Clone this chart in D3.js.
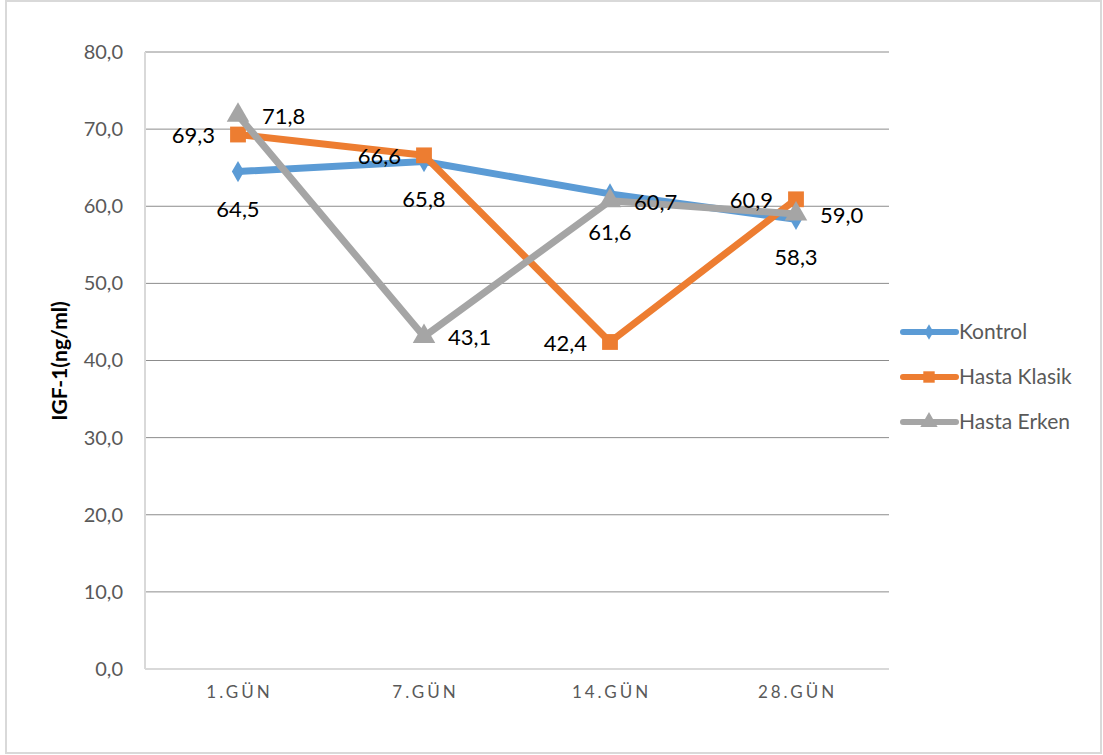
<!DOCTYPE html>
<html>
<head>
<meta charset="utf-8">
<script src="https://cdn.jsdelivr.net/npm/d3@7"></script>
<style>
	body { margin: 0; background: #fff; }
	svg { display: block; font-family: Lato, "Open Sans", sans-serif; }
</style>
</head>
<body>
<div id="chart"></div>
<script>
// donnees
const gunler = ["1.GÜN", "7.GÜN", "14.GÜN", "28.GÜN"];
const kontrol = [64.5, 65.8, 61.6, 58.3];
const hastaKlasik = [69.3, 66.6, 42.4, 60.9];
const hastaErken = [71.8, 43.1, 60.7, 59.0];
const yTicks = [0, 10, 20, 30, 40, 50, 60, 70, 80];

const series = [
	{ name: "Kontrol", values: kontrol, color: "#5B9BD5", marker: "diamond", label: "below" },
	{ name: "Hasta Klasik", values: hastaKlasik, color: "#ED7D31", marker: "square", label: "left" },
	{ name: "Hasta Erken", values: hastaErken, color: "#A5A5A5", marker: "triangle", label: "right" }
];

const width = 1103, height = 755;
const margin = { top: 52, right: 214, bottom: 86, left: 145 };
const inner = {
	width: width - margin.left - margin.right,
	height: height - margin.top - margin.bottom
};

const svg = d3.select("#chart")
	.append("svg")
	.attr("width", width)
	.attr("height", height);

// cadre exterieur
svg.append("rect")
	.attr("x", 6).attr("y", 1)
	.attr("width", 1095).attr("height", 752)
	.attr("fill", "none")
	.attr("stroke", "#d9d9d9")
	.attr("stroke-width", 2);

const g = svg.append("g")
	.attr("transform", "translate(" + margin.left + "," + margin.top + ")");

const x = d3.scaleBand().domain(gunler).range([0, inner.width]);
const y = d3.scaleLinear().domain([0, 80]).range([inner.height, 0]);
const cx = d => x(d) + x.bandwidth() / 2;

// grille
g.append("g")
	.selectAll("line")
	.data(yTicks.filter(t => t > 0))
	.join("line")
	.attr("x1", 0).attr("x2", inner.width)
	.attr("y1", d => y(d)).attr("y2", d => y(d))
	.attr("stroke", "#8c8c8c")
	.attr("stroke-width", 1);

// axes
g.append("line")
	.attr("x1", 0).attr("x2", 0)
	.attr("y1", 0).attr("y2", inner.height)
	.attr("stroke", "#d9d9d9").attr("stroke-width", 2);
g.append("line")
	.attr("x1", 0).attr("x2", inner.width)
	.attr("y1", inner.height).attr("y2", inner.height)
	.attr("stroke", "#d9d9d9").attr("stroke-width", 2);

const yAxis = g.append("g")
	.call(d3.axisLeft(y).tickValues(yTicks).tickSize(0).tickPadding(22)
		.tickFormat(d => d3.format(".1f")(d).replace(".", ",")));
yAxis.select(".domain").remove();
yAxis.selectAll("text")
	.attr("fill", "#595959")
	.style("font-size", "20px")
	.style("font-family", "Lato, sans-serif");

const xAxis = g.append("g")
	.attr("transform", "translate(0," + inner.height + ")")
	.call(d3.axisBottom(x).tickSize(0).tickPadding(17));
xAxis.select(".domain").remove();
xAxis.selectAll("text")
	.attr("fill", "#595959")
	.attr("dx", "1.5px")
	.style("font-size", "17px")
	.style("letter-spacing", "3px")
	.style("font-family", "Lato, sans-serif");

// titre axe y
svg.append("text")
	.attr("transform", "translate(67,361) rotate(-90)")
	.attr("text-anchor", "middle")
	.style("font-size", "21px")
	.style("font-weight", "bold")
	.attr("fill", "#000")
	.text("IGF-1(ng/ml)");

const symbols = {
	diamond: d3.symbol().type(d3.symbolDiamond).size(130),
	square: d3.symbol().type(d3.symbolSquare).size(250),
	triangle: d3.symbol().type(d3.symbolTriangle).size(220)
};

const line = d3.line()
	.x((d, i) => cx(gunler[i]))
	.y(d => y(d));

series.forEach(s => {
	g.append("path")
		.datum(s.values)
		.attr("d", line)
		.attr("fill", "none")
		.attr("stroke", s.color)
		.attr("stroke-width", 7)
		.attr("stroke-linejoin", "round");
	g.append("g")
		.selectAll("path")
		.data(s.values)
		.join("path")
		.attr("transform", (d, i) => "translate(" + cx(gunler[i]) + "," + y(d) + ")")
		.attr("d", symbols[s.marker])
		.attr("fill", s.color);
});

// etiquettes de valeurs
const fmt = v => d3.format(".1f")(v).replace(".", ",");
series.forEach(s => {
	g.append("g")
		.selectAll("text")
		.data(s.values)
		.join("text")
		.attr("x", (d, i) => {
			if (s.label === "below") return cx(gunler[i]);
			if (s.label === "left") return cx(gunler[i]) - 23;
			return cx(gunler[i]) + 24;
		})
		.attr("y", d => s.label === "below" ? y(d) + 38 : y(d) + 1)
		.attr("dy", "0.35em")
		.attr("text-anchor", s.label === "below" ? "middle" : (s.label === "left" ? "end" : "start"))
		.style("font-size", "22px")
		.attr("fill", "#000")
		.text(fmt);
});

// legende
const legend = svg.append("g")
	.attr("transform", "translate(900,332)");
series.forEach((s, i) => {
	const row = legend.append("g")
		.attr("transform", "translate(0," + (i * 45) + ")");
	row.append("line")
		.attr("x1", 3).attr("x2", 56)
		.attr("stroke", s.color)
		.attr("stroke-width", 6)
		.attr("stroke-linecap", "round");
	row.append("path")
		.attr("transform", "translate(29,0)")
		.attr("d", d3.symbol().type(
			s.marker === "diamond" ? d3.symbolDiamond :
			s.marker === "square" ? d3.symbolSquare : d3.symbolTriangle
		).size(s.marker === "diamond" ? 70 : 130))
		.attr("fill", s.color);
	row.append("text")
		.attr("x", 59)
		.attr("dy", "0.35em")
		.style("font-size", "21px")
		.attr("fill", "#595959")
		.text(s.name);
});
</script>
</body>
</html>
